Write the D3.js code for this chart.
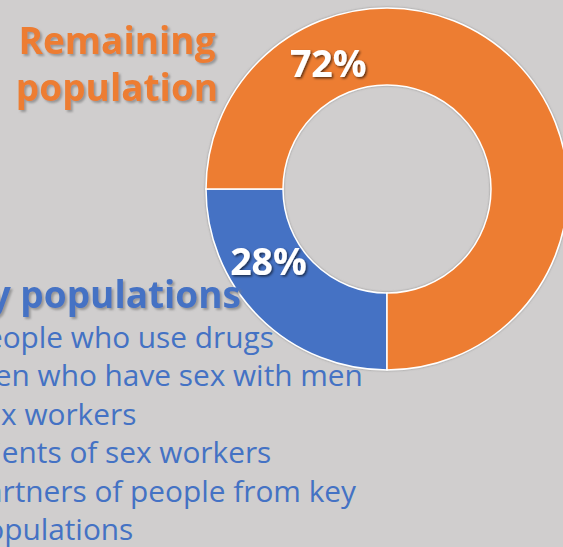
<!DOCTYPE html>
<html>
<head>
<meta charset="utf-8">
<script src="https://cdn.jsdelivr.net/npm/d3@7"></script>
<style>
  html, body { margin: 0; padding: 0; background: #d0cece; overflow: hidden; }
  text { font-family: "Open Sans", "Noto Sans", sans-serif; }
</style>
</head>
<body>
<div id="chart"></div>
<script>
// slice data (arc shares as drawn, labels as printed)
const categories = ["Key populations", "Remaining population"];
const shares = [25, 75];
const shareLabels = ["28%", "72%"];
const colors = ["#4472c4", "#ed7d31"];
const labelAngles = [238.5, 335];   // degrees, clockwise from top

const keyPopList = [
  "People who use drugs",
  "Men who have sex with men",
  "Sex workers",
  "Clients of sex workers",
  "Partners of people from key",
  "populations"
];

const width = 563;
const height = 547;
const cx = 387, cy = 189;
const outerR = 181, innerR = 104;

const svg = d3.select("#chart")
  .append("svg")
  .attr("width", width)
  .attr("height", height);

svg.append("rect")
  .attr("width", width)
  .attr("height", height)
  .attr("fill", "#d0cece");

const defs = svg.append("defs");
defs.append("filter").attr("id", "titleShadow")
  .attr("x", "-10%").attr("y", "-10%").attr("width", "130%").attr("height", "140%")
  .append("feDropShadow")
  .attr("dx", 2).attr("dy", 2).attr("stdDeviation", 1.2)
  .attr("flood-color", "#7f7f7f").attr("flood-opacity", 0.7);
defs.append("filter").attr("id", "labelShadow")
  .attr("x", "-10%").attr("y", "-10%").attr("width", "130%").attr("height", "140%")
  .append("feDropShadow")
  .attr("dx", 1.5).attr("dy", 1.5).attr("stdDeviation", 1.2)
  .attr("flood-color", "#000").attr("flood-opacity", 0.6);
defs.append("filter").attr("id", "ringShadow")
  .attr("x", "-10%").attr("y", "-10%").attr("width", "120%").attr("height", "120%")
  .append("feDropShadow")
  .attr("dx", 0).attr("dy", 0).attr("stdDeviation", 1)
  .attr("flood-color", "#808080").attr("flood-opacity", 0.8);

// donut
const pie = d3.pie()
  .sort(null)
  .value(d => d)
  .startAngle(Math.PI)
  .endAngle(3 * Math.PI);

const arc = d3.arc().innerRadius(innerR).outerRadius(outerR);

const g = svg.append("g").attr("transform", `translate(${cx},${cy})`);

g.append("g").attr("filter", "url(#ringShadow)")
  .selectAll("path")
  .data(pie(shares))
  .enter()
  .append("path")
  .attr("d", arc)
  .attr("fill", (d, i) => colors[i])
  .attr("stroke", "#ffffff")
  .attr("stroke-width", 1.5);

// percentage labels
g.selectAll(".pct")
  .data(shareLabels)
  .enter()
  .append("text")
  .attr("class", "pct")
  .attr("x", (d, i) => d3.pointRadial(labelAngles[i] * Math.PI / 180, 139)[0])
  .attr("y", (d, i) => d3.pointRadial(labelAngles[i] * Math.PI / 180, 139)[1])
  .attr("dy", "0.36em")
  .attr("text-anchor", "middle")
  .attr("fill", "#ffffff")
  .attr("font-weight", 700)
  .attr("font-size", 37.5)
  .attr("filter", "url(#labelShadow)")
  .text(d => d);

// "Remaining population" title
const remTitle = svg.append("text")
  .attr("text-anchor", "middle")
  .attr("fill", colors[1])
  .attr("font-weight", 700)
  .attr("font-size", 37)
  .attr("filter", "url(#titleShadow)");
remTitle.append("tspan").attr("x", 117).attr("y", 54).text("Remaining");
remTitle.append("tspan").attr("x", 117).attr("y", 101).text("population");

// "Key populations" title, cut at the left edge
svg.append("text")
  .attr("x", 241)
  .attr("y", 308)
  .attr("text-anchor", "end")
  .attr("fill", colors[0])
  .attr("font-weight", 700)
  .attr("font-size", 37)
  .attr("filter", "url(#titleShadow)")
  .text(categories[0]);

// list of key populations
svg.selectAll(".item")
  .data(keyPopList)
  .enter()
  .append("text")
  .attr("class", "item")
  .attr("x", -32)
  .attr("y", (d, i) => 348 + i * 38.4)
  .attr("fill", colors[0])
  .attr("font-size", 29.8)
  .text(d => d);
</script>
</body>
</html>
